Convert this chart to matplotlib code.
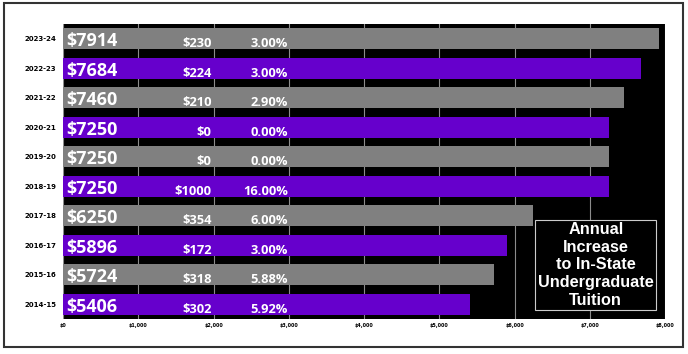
import matplotlib.pyplot as plt
from matplotlib.patches import Rectangle
from matplotlib.ticker import FuncFormatter

years = ['2014-15', '2015-16', '2016-17', '2017-18', '2018-19',
         '2019-20', '2020-21', '2021-22', '2022-23', '2023-24']
tuition = [5406, 5724, 5896, 6250, 7250, 7250, 7250, 7460, 7684, 7914]
increase = [302, 318, 172, 354, 1000, 0, 0, 210, 224, 230]
pct = ['5.92%', '5.88%', '3.00%', '6.00%', '16.00%',
       '0.00%', '0.00%', '2.90%', '3.00%', '3.00%']

purple = '#6600cc'
grey = '#808080'
colors = [purple if i % 2 == 0 else grey for i in range(len(years))]

fig = plt.figure(figsize=(6.88, 3.54), dpi=100)
ax = fig.add_axes([0.0916, 0.099, 0.875, 0.833])
ax.set_facecolor('black')

y = range(len(years))
ax.barh(y, tuition, height=0.72, color=colors, zorder=2)
ax.set_xlim(0, 8000)
ax.set_ylim(-0.5, len(years) - 0.5)
ax.set_xticks(range(0, 8001, 1000))
ax.xaxis.set_major_formatter(FuncFormatter(lambda v, p: '${:,.0f}'.format(v)))
ax.set_yticks(list(y))
ax.set_yticklabels(years)
ax.tick_params(axis='x', length=0, labelsize=3.5, pad=3)
ax.tick_params(axis='y', length=0, labelsize=5, pad=5)
for lab in ax.get_xticklabels() + ax.get_yticklabels():
    lab.set_fontweight('bold')
ax.grid(axis='x', color='#8c8c8c', linewidth=0.8, zorder=1)
for s in ax.spines.values():
    s.set_visible(False)

for i in y:
    ax.text(40, i - 0.02, '$%d' % tuition[i], color='white', fontsize=13,
            fontweight='bold', family='Open Sans', va='center_baseline',
            ha='left', zorder=3)
    ax.text(1975, i - 0.12, '$%d' % increase[i], color='white', fontsize=9.3,
            fontweight='bold', family='Open Sans', va='center_baseline',
            ha='right', zorder=3)
    ax.text(2985, i - 0.12, pct[i], color='white', fontsize=9.3,
            fontweight='bold', family='Open Sans', va='center_baseline',
            ha='right', zorder=3)

ax.text(0.885, 0.183, 'Annual\nIncrease\nto In-State\nUndergraduate\nTuition',
        transform=ax.transAxes, color='white', fontsize=11.7, fontweight='bold',
        family='Liberation Sans', ha='center', va='center', linespacing=1.22,
        zorder=4,
        bbox=dict(boxstyle='square,pad=0.15', facecolor='black',
                  edgecolor='#cccccc', linewidth=0.8))

fig.patches.append(Rectangle((4 / 688, 7 / 354), 679 / 688, 344 / 354,
                             transform=fig.transFigure, fill=False,
                             edgecolor='#333333', linewidth=1.5))

fig.savefig('out.png', dpi=100)
